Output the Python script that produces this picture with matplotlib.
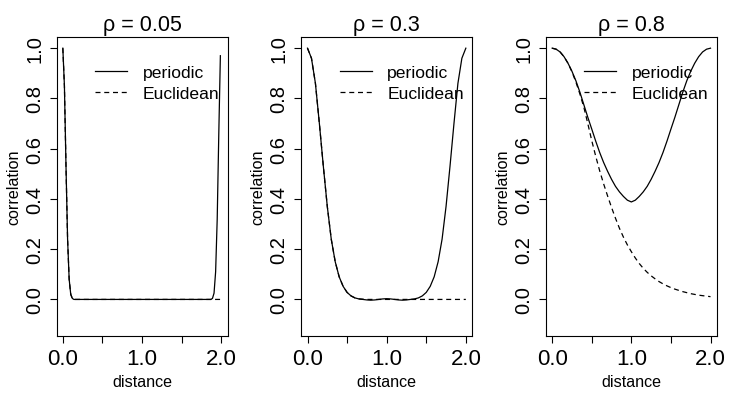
import matplotlib.pyplot as plt

plt.rcParams['font.family'] = ['Liberation Sans', 'DejaVu Sans']

# panel titles
rhos = ['0.05', '0.3', '0.8']

# rho = 0.05
p1_dist = [0, 0.02, 0.04, 0.06, 0.08, 0.10, 0.12, 0.14, 0.5, 1.0, 1.5,
           1.85, 1.87, 1.89, 1.91, 1.93, 1.95, 1.97, 1.99]
p1_periodic = [1.0, 0.85, 0.53, 0.24, 0.08, 0.02, 0.004, 0.0, 0.0, 0.0, 0.0,
               0.0, 0.0, 0.004, 0.025, 0.11, 0.32, 0.66, 0.97]
p1_euclid = [1.0, 0.85, 0.53, 0.24, 0.08, 0.02, 0.004, 0.0, 0.0, 0.0, 0.0,
             0.0, 0.0, 0.0, 0.0, 0.0, 0.0, 0.0, 0.0]

# distance grid used for rho = 0.3 and rho = 0.8
grid = [0.00, 0.05, 0.10, 0.15, 0.20, 0.25, 0.30, 0.35, 0.40, 0.45,
        0.50, 0.55, 0.60, 0.65, 0.70, 0.75, 0.80, 0.85, 0.90, 0.95,
        1.00, 1.05, 1.10, 1.15, 1.20, 1.25, 1.30, 1.35, 1.40, 1.45,
        1.50, 1.55, 1.60, 1.65, 1.70, 1.75, 1.80, 1.85, 1.90, 1.95, 2.00]

# rho = 0.3
p2_periodic = [1.000, 0.960, 0.860, 0.700, 0.530, 0.370, 0.240, 0.150, 0.090, 0.052,
               0.028, 0.014, 0.006, 0.002, 0.000, -0.002, -0.003, -0.002, 0.000, 0.002,
               0.003, 0.002, 0.000, -0.002, -0.003, -0.002, 0.000, 0.002, 0.006, 0.014,
               0.028, 0.052, 0.090, 0.150, 0.240, 0.370, 0.530, 0.700, 0.860, 0.960, 1.000]
p2_euclid = [1.000, 0.960, 0.860, 0.700, 0.530, 0.370, 0.240, 0.150, 0.090, 0.052,
             0.028, 0.014, 0.006, 0.002, 0.001, 0.0, 0.0, 0.0, 0.0, 0.0,
             0.0, 0.0, 0.0, 0.0, 0.0, 0.0, 0.0, 0.0, 0.0, 0.0,
             0.0, 0.0, 0.0, 0.0, 0.0, 0.0, 0.0, 0.0, 0.0, 0.0, 0.0]

# rho = 0.8
p3_periodic = [1.000, 0.996, 0.985, 0.966, 0.940, 0.908, 0.870, 0.825, 0.775, 0.725,
               0.678, 0.630, 0.585, 0.545, 0.510, 0.478, 0.450, 0.428, 0.410, 0.395,
               0.388, 0.395, 0.410, 0.428, 0.450, 0.478, 0.510, 0.545, 0.585, 0.630,
               0.678, 0.725, 0.775, 0.825, 0.870, 0.908, 0.940, 0.966, 0.985, 0.996, 1.000]
p3_euclid = [1.000, 0.996, 0.985, 0.966, 0.940, 0.906, 0.865, 0.818, 0.765, 0.700,
             0.632, 0.570, 0.512, 0.460, 0.412, 0.366, 0.323, 0.283, 0.248, 0.217,
             0.190, 0.165, 0.143, 0.124, 0.108, 0.094, 0.082, 0.071, 0.062, 0.054,
             0.047, 0.041, 0.036, 0.031, 0.027, 0.023, 0.020, 0.017, 0.015, 0.013, 0.011]

panels = [(p1_dist, p1_periodic, p1_euclid),
          (grid, p2_periodic, p2_euclid),
          (grid, p3_periodic, p3_euclid)]

fig = plt.figure(figsize=(7.34, 4.10), dpi=100)

for i, (dist, per, euc) in enumerate(panels):
    ax = fig.add_axes([(i * 244.67 + 56.5) / 734, 0.179, 171 / 734, 0.728])
    ax.plot(dist, per, color='black', lw=0.9, label='periodic')
    ax.plot(dist, euc, color='black', lw=0.9, ls=(0, (4, 3)), label='Euclidean')

    ax.set_xlim(-0.08, 2.08)
    ax.set_ylim(-0.144, 1.044)
    ax.set_xticks([0, 0.5, 1.0, 1.5, 2.0])
    ax.set_xticklabels(['0.0', '', '1.0', '', '2.0'])
    ax.set_yticks([0, 0.2, 0.4, 0.6, 0.8, 1.0])
    ax.set_yticklabels(['0.0', '0.2', '0.4', '0.6', '0.8', '1.0'],
                       rotation=90, va='center')
    ax.tick_params(axis='x', length=5, width=0.8, pad=4, labelsize=16)
    ax.tick_params(axis='y', length=5, width=0.8, pad=4, labelsize=14.5)
    for s in ax.spines.values():
        s.set_linewidth(0.8)

    ax.set_title('\u03c1 = ' + rhos[i], fontsize=15.5, pad=4.8)
    ax.set_xlabel('distance', fontsize=11.6)
    ax.xaxis.set_label_coords(0.5, -0.128)
    ax.set_ylabel('correlation', fontsize=11.6)
    ax.yaxis.set_label_coords(-0.208, 0.5)

    ax.legend(loc='upper left', bbox_to_anchor=(0.225, 0.907), frameon=False,
              fontsize=12.6, handlelength=1.83, handletextpad=0.9,
              labelspacing=0.3, borderpad=0, borderaxespad=0)

fig.savefig('out.png', dpi=100)
